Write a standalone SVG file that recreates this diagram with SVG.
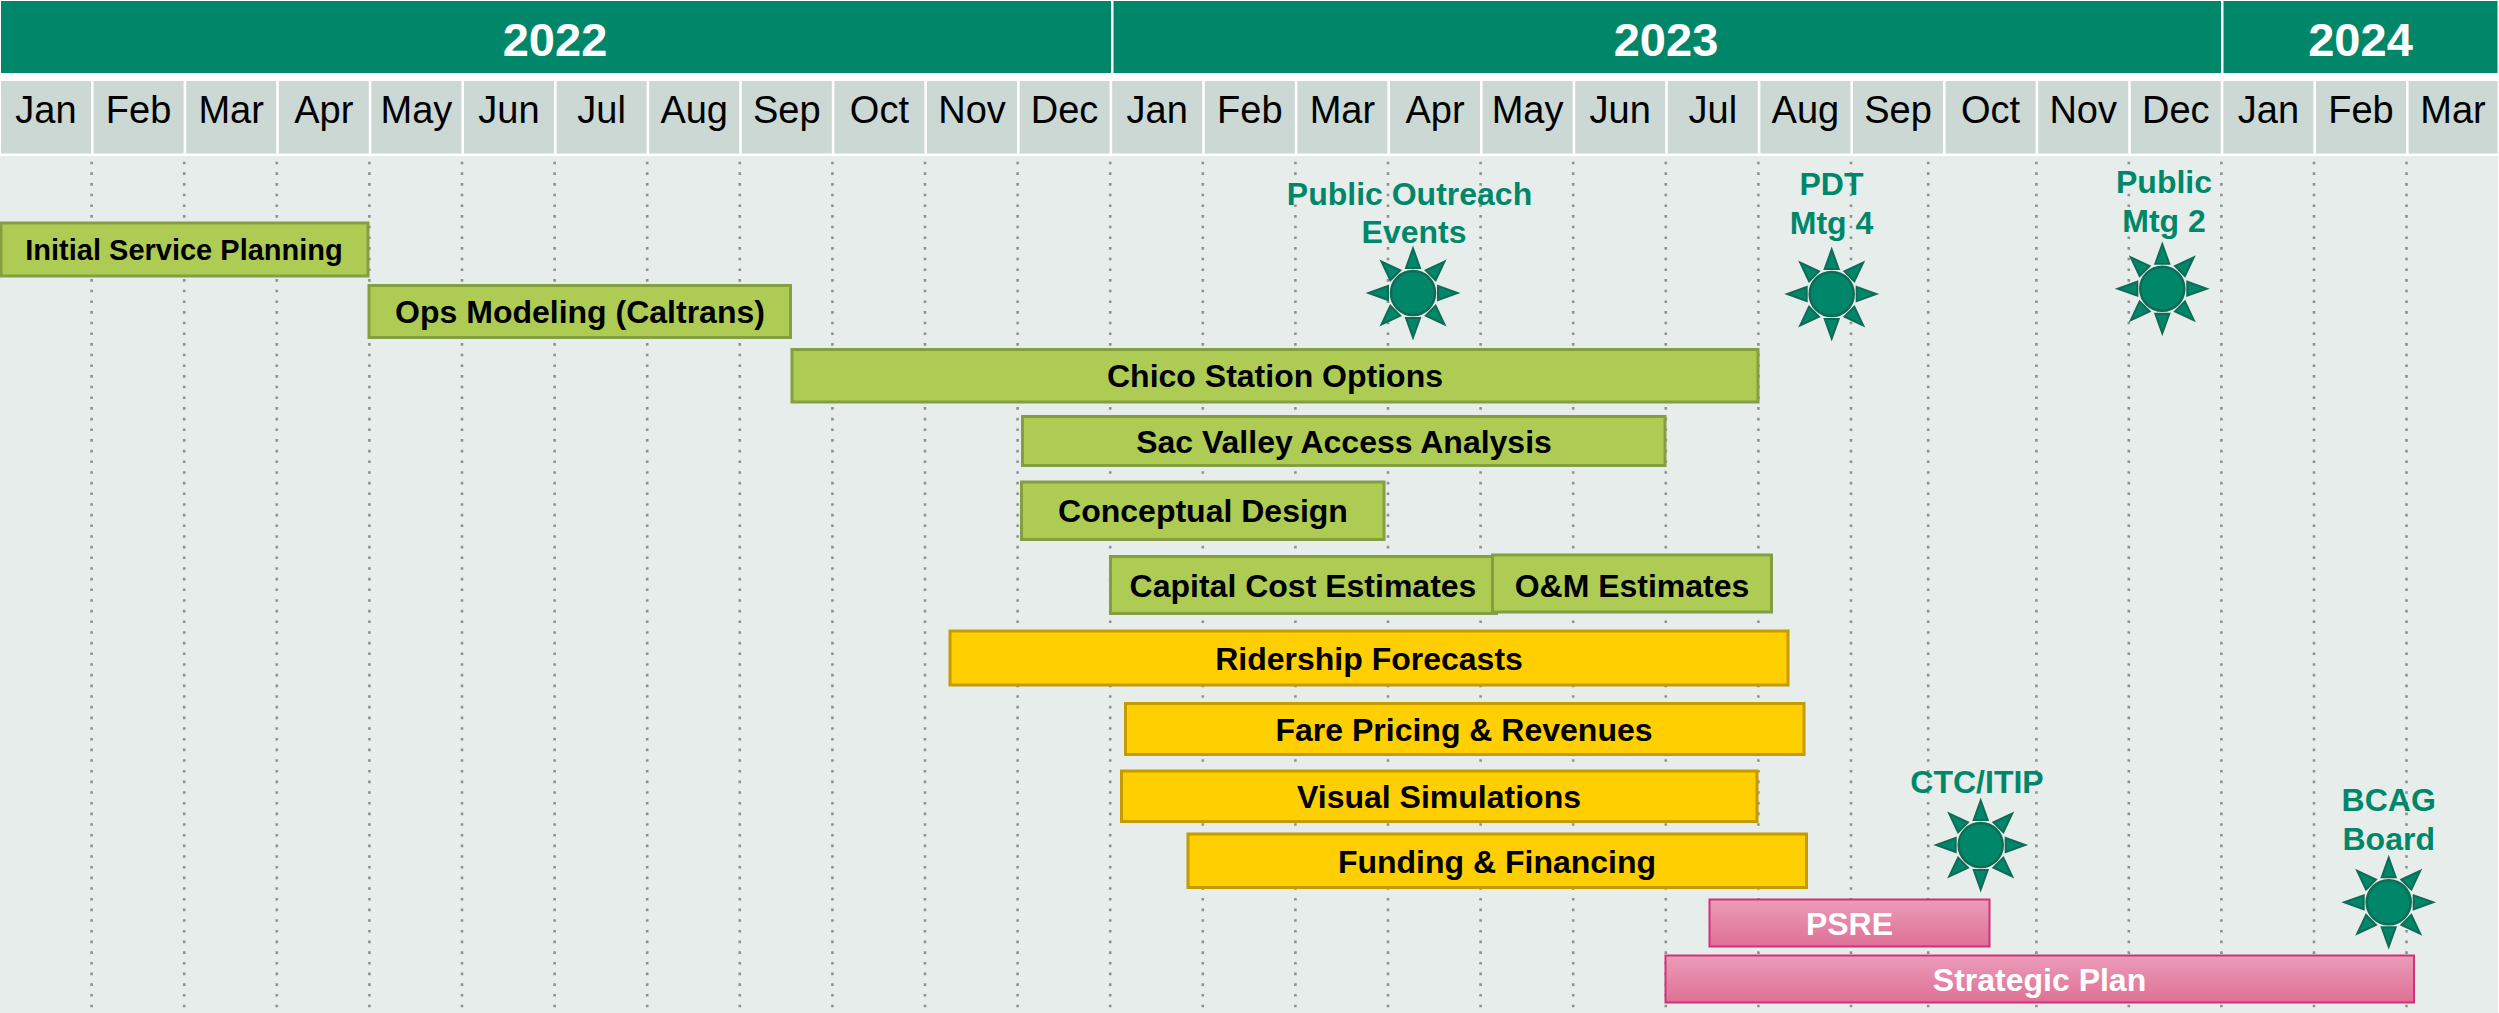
<svg xmlns="http://www.w3.org/2000/svg" width="2499" height="1013" viewBox="0 0 2499 1013">
<style>
text{font-family:"Liberation Sans",Arial,sans-serif;text-anchor:middle}
.yr{fill:#00876A}.yt{fill:#fff;font-size:47px;font-weight:700}
.mo{fill:#CBD8D3}.mt{fill:#000;font-size:38px}
.dots{stroke:#909090;stroke-width:2.6;stroke-dasharray:2.6 8.07;fill:none}
.g rect{fill:#AECC53;stroke:#869E42;stroke-width:3}
.y rect{fill:#FFCF01;stroke:#C49B00;stroke-width:3}
.p rect{fill:url(#pink);stroke:#D1307B;stroke-width:2}
.b{fill:#000;font-size:32px;font-weight:700}
.w{fill:#fff;font-size:32px;font-weight:700}
.m{fill:#00876A;font-size:32px;font-weight:700}
.ray{fill:#00876A;stroke:#0F6B56;stroke-width:2;stroke-linejoin:miter}
</style>
<defs>
<linearGradient id="pink" x1="0" y1="0" x2="0" y2="1"><stop offset="0" stop-color="#EB9CB8"/><stop offset="1" stop-color="#DF7096"/></linearGradient>
<g id="sun">
<circle r="24.5" fill="#E7EDEA"/>
<circle r="22" fill="#00876A" stroke="#0F6B56" stroke-width="2.5"/>
<g id="rays">
<polygon class="ray" points="-7,-25 7,-25 0,-44.5"/>
<polygon class="ray" points="-7,-25 7,-25 0,-44.5" transform="rotate(45)"/>
<polygon class="ray" points="-7,-25 7,-25 0,-44.5" transform="rotate(90)"/>
<polygon class="ray" points="-7,-25 7,-25 0,-44.5" transform="rotate(135)"/>
<polygon class="ray" points="-7,-25 7,-25 0,-44.5" transform="rotate(180)"/>
<polygon class="ray" points="-7,-25 7,-25 0,-44.5" transform="rotate(225)"/>
<polygon class="ray" points="-7,-25 7,-25 0,-44.5" transform="rotate(270)"/>
<polygon class="ray" points="-7,-25 7,-25 0,-44.5" transform="rotate(315)"/>
</g>
</g>
</defs>
<rect width="2499" height="1013" fill="#fff"/>
<rect x="0" y="156" width="2498" height="857" fill="#E7EDEA"/>
<g id="years">
<rect class="yr" x="1" y="1" width="1110" height="72"/>
<rect class="yr" x="1113.5" y="1" width="1107.5" height="72"/>
<rect class="yr" x="2223.5" y="1" width="274" height="72"/>
<text class="yt" x="555" y="56">2022</text>
<text class="yt" x="1666" y="56">2023</text>
<text class="yt" x="2360.5" y="56">2024</text>
</g>
<g id="months">
<rect class="mo" x="1" y="81" width="90" height="72.5"/><text class="mt" x="46" y="123">Jan</text>
<rect class="mo" x="93.6" y="81" width="90" height="72.5"/><text class="mt" x="138.6" y="123">Feb</text>
<rect class="mo" x="186.2" y="81" width="90" height="72.5"/><text class="mt" x="231.2" y="123">Mar</text>
<rect class="mo" x="278.8" y="81" width="90" height="72.5"/><text class="mt" x="323.8" y="123">Apr</text>
<rect class="mo" x="371.4" y="81" width="90" height="72.5"/><text class="mt" x="416.4" y="123">May</text>
<rect class="mo" x="464" y="81" width="90" height="72.5"/><text class="mt" x="509" y="123">Jun</text>
<rect class="mo" x="556.6" y="81" width="90" height="72.5"/><text class="mt" x="601.6" y="123">Jul</text>
<rect class="mo" x="649.2" y="81" width="90" height="72.5"/><text class="mt" x="694.2" y="123">Aug</text>
<rect class="mo" x="741.8" y="81" width="90" height="72.5"/><text class="mt" x="786.8" y="123">Sep</text>
<rect class="mo" x="834.4" y="81" width="90" height="72.5"/><text class="mt" x="879.4" y="123">Oct</text>
<rect class="mo" x="927" y="81" width="90" height="72.5"/><text class="mt" x="972" y="123">Nov</text>
<rect class="mo" x="1019.6" y="81" width="90" height="72.5"/><text class="mt" x="1064.6" y="123">Dec</text>
<rect class="mo" x="1112.2" y="81" width="90" height="72.5"/><text class="mt" x="1157.2" y="123">Jan</text>
<rect class="mo" x="1204.8" y="81" width="90" height="72.5"/><text class="mt" x="1249.8" y="123">Feb</text>
<rect class="mo" x="1297.4" y="81" width="90" height="72.5"/><text class="mt" x="1342.4" y="123">Mar</text>
<rect class="mo" x="1390" y="81" width="90" height="72.5"/><text class="mt" x="1435" y="123">Apr</text>
<rect class="mo" x="1482.6" y="81" width="90" height="72.5"/><text class="mt" x="1527.6" y="123">May</text>
<rect class="mo" x="1575.2" y="81" width="90" height="72.5"/><text class="mt" x="1620.2" y="123">Jun</text>
<rect class="mo" x="1667.8" y="81" width="90" height="72.5"/><text class="mt" x="1712.8" y="123">Jul</text>
<rect class="mo" x="1760.4" y="81" width="90" height="72.5"/><text class="mt" x="1805.4" y="123">Aug</text>
<rect class="mo" x="1853" y="81" width="90" height="72.5"/><text class="mt" x="1898" y="123">Sep</text>
<rect class="mo" x="1945.6" y="81" width="90" height="72.5"/><text class="mt" x="1990.6" y="123">Oct</text>
<rect class="mo" x="2038.2" y="81" width="90" height="72.5"/><text class="mt" x="2083.2" y="123">Nov</text>
<rect class="mo" x="2130.8" y="81" width="90" height="72.5"/><text class="mt" x="2175.8" y="123">Dec</text>
<rect class="mo" x="2223.4" y="81" width="90" height="72.5"/><text class="mt" x="2268.4" y="123">Jan</text>
<rect class="mo" x="2316" y="81" width="90" height="72.5"/><text class="mt" x="2361" y="123">Feb</text>
<rect class="mo" x="2408.6" y="81" width="89" height="72.5"/><text class="mt" x="2453" y="123">Mar</text>
</g>
<path id="grid" class="dots" d="M91.6 161.7V1010M184.2 161.7V1010M276.8 161.7V1010M369.4 161.7V1010M462 161.7V1010M554.6 161.7V1010M647.2 161.7V1010M739.8 161.7V1010M832.4 161.7V1010M925 161.7V1010M1017.6 161.7V1010M1110.2 161.7V1010M1202.8 161.7V1010M1295.4 161.7V1010M1388 161.7V1010M1480.6 161.7V1010M1573.2 161.7V1010M1665.8 161.7V1010M1758.4 161.7V1010M1851 161.7V1010M1928.2 161.7V1010M2036.4 161.7V1010M2128.8 161.7V1010M2221.4 161.7V1010M2314 161.7V1010M2406.5 161.7V1010"/>
<g id="bar-initial" class="g"><rect x="1" y="223" width="367" height="53"/><text class="b" style="font-size:29px" x="184" y="260">Initial Service Planning</text></g>
<g id="bar-ops" class="g"><rect x="369" y="285.5" width="421.5" height="52"/><text class="b" x="580" y="323">Ops Modeling (Caltrans)</text></g>
<g id="bar-chico" class="g"><rect x="792" y="349.5" width="966" height="52.5"/><text class="b" x="1275" y="387">Chico Station Options</text></g>
<g id="bar-sac" class="g"><rect x="1022.5" y="416.5" width="642.5" height="49"/><text class="b" x="1344" y="453">Sac Valley Access Analysis</text></g>
<g id="bar-concept" class="g"><rect x="1021.5" y="482" width="362.5" height="57.5"/><text class="b" x="1203" y="522">Conceptual Design</text></g>
<g id="bar-capital" class="g"><rect x="1110.5" y="556.5" width="386" height="57"/><text class="b" x="1303" y="597">Capital Cost Estimates</text></g>
<g id="bar-om" class="g"><rect x="1492.5" y="555" width="279" height="57"/><text class="b" x="1632" y="597">O&amp;M Estimates</text></g>
<g id="bar-ridership" class="y"><rect x="950" y="631" width="838" height="54"/><text class="b" x="1369" y="670">Ridership Forecasts</text></g>
<g id="bar-fare" class="y"><rect x="1125.5" y="703.5" width="678.5" height="51"/><text class="b" x="1464" y="741">Fare Pricing &amp; Revenues</text></g>
<g id="bar-visual" class="y"><rect x="1121.5" y="771" width="635.5" height="50.5"/><text class="b" x="1439" y="808">Visual Simulations</text></g>
<g id="bar-funding" class="y"><rect x="1188" y="834" width="618.5" height="53.5"/><text class="b" x="1497" y="873">Funding &amp; Financing</text></g>
<g id="bar-psre" class="p"><rect x="1709.5" y="899.5" width="280" height="47"/><text class="w" x="1849.5" y="935">PSRE</text></g>
<g id="bar-strategic" class="p"><rect x="1665.5" y="955.5" width="748.5" height="47"/><text class="w" x="2039.5" y="991">Strategic Plan</text></g>
<g id="ms-outreach"><text class="m" x="1409.5" y="205">Public Outreach</text><text class="m" x="1414" y="243">Events</text><use href="#sun" x="1413" y="293"/></g>
<g id="ms-pdt"><text class="m" x="1831.5" y="195">PDT</text><text class="m" x="1831.5" y="234">Mtg 4</text><use href="#sun" x="1831.7" y="294"/></g>
<g id="ms-public"><text class="m" x="2164" y="193">Public</text><text class="m" x="2164" y="232">Mtg 2</text><use href="#sun" x="2162.3" y="288.7"/></g>
<g id="ms-ctc"><text class="m" x="1977" y="793">CTC/ITIP</text><use href="#sun" x="1980.7" y="845"/></g>
<g id="ms-bcag"><text class="m" x="2388.7" y="811">BCAG</text><text class="m" x="2388.7" y="849.5">Board</text><use href="#sun" x="2388.7" y="902.3"/></g>
</svg>
